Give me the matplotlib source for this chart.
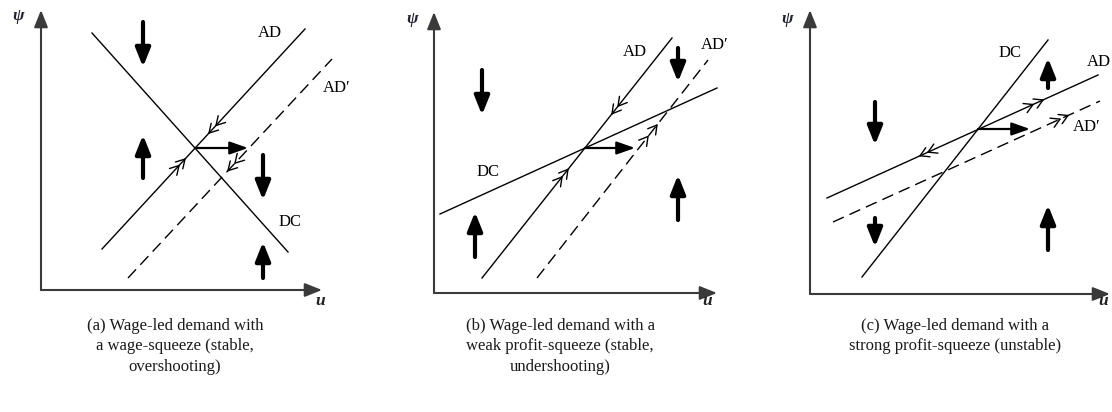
import numpy as np
import matplotlib
matplotlib.use("Agg")
import matplotlib.pyplot as plt

# Panel geometry in pixels: origin of the (u, psi) axes and axis lengths
W_PX, H_PX = 1112, 412
ORIGINS = [(41, 290), (434, 293), (810, 294)]
AXIS_LEN = [(281, 280), (283, 281), (300, 284)]

# Curves per panel, local (u, psi) coordinates, 1 unit = 1 px
dc_a = [(51, 257), (247, 38)]
ad_a = [(61, 41), (264, 261)]
ad2_a = [(87, 12), (291, 231)]

dc_b = [(6, 79), (283, 205)]
ad_b = [(48, 15), (238, 255)]
ad2_b = [(103, 15), (274, 233)]

dc_c = [(52, 17), (238, 254)]
ad_c = [(17, 96), (288, 219)]
ad2_c = [(23, 72), (290, 193)]

# horizontal shift arrow: (u_start, u_end, psi)
shift_a = (154, 207, 142)
shift_b = (151, 201, 145)
shift_c = (168, 220, 165)

# chevrons on curves: (curve, u of tip, direction +1 up-right / -1 down-left)
chev_a = [("AD", 168, -1), ("AD", 175, -1), ("AD", 138, 1), ("AD", 144, 1),
          ("AD'", 187, -1), ("AD'", 194, -1)]
chev_b = [("AD", 178, -1), ("AD", 184, -1), ("AD", 128, 1), ("AD", 134, 1),
          ("AD'", 214, 1), ("AD'", 223, 1)]
chev_c = [("AD", 223, 1), ("AD", 233, 1), ("AD", 110, -1), ("AD", 118, -1),
          ("AD'", 250, 1), ("AD'", 258, 1)]

# thick vertical arrows: (u, psi_start, psi_end)
thick_a = [(102, 268, 223), (102, 112, 155), (222, 135, 90), (222, 12, 48)]
thick_b = [(48, 223, 178), (41, 36, 81), (244, 245, 211), (244, 73, 118)]
thick_c = [(65, 192, 149), (65, 76, 47), (238, 206, 236), (238, 44, 89)]

# text labels: (text, u, psi, ha)
labels_a = [("AD", 229, 257, "center"), ("AD\u2032", 296, 202, "center"),
            ("DC", 249, 68, "center")]
labels_b = [("AD", 201, 241, "center"), ("AD\u2032", 281, 248, "center"),
            ("DC", 54, 121, "center")]
labels_c = [("DC", 200, 241, "center"), ("AD", 277, 232, "left"),
            ("AD\u2032", 277, 167, "center")]
psi_pos = [(-23, 274), (-22, 274), (-23, 275)]
u_pos = [(279, -11), (273, -8), (293, -7)]

captions = [
    ["(a) Wage-led demand with", "a wage-squeeze (stable,", "overshooting)"],
    ["(b) Wage-led demand with a", "weak profit-squeeze (stable,", "undershooting)"],
    ["(c) Wage-led demand with a", "strong profit-squeeze (unstable)"],
]
caption_x = [175, 560, 955]
caption_y0 = 326
caption_dy = 20.5

SERIF = ["Liberation Serif", "DejaVu Serif"]


def on_line(line, u):
    (u0, p0), (u1, p1) = line
    return p0 + (p1 - p0) * (u - u0) / (u1 - u0)


def chevron(ax, line, u, direction, size=10, half_angle=30):
    (u0, p0), (u1, p1) = line
    d = np.array([u1 - u0, p1 - p0], dtype=float)
    d = d / np.linalg.norm(d) * direction
    tip = np.array([u, on_line(line, u)])
    for s in (1, -1):
        a = np.radians(s * half_angle)
        rot = np.array([[np.cos(a), -np.sin(a)], [np.sin(a), np.cos(a)]])
        arm = tip - size * rot @ d
        ax.plot([tip[0], arm[0]], [tip[1], arm[1]], color="black", lw=1.0,
                solid_capstyle="round", clip_on=False)


def draw_panel(ax, idx, dc, ad, ad2, shift, chevs, thick, labels):
    w, h = AXIS_LEN[idx]
    ax.set_xlim(0, w)
    ax.set_ylim(0, h)
    ax.axis("off")

    # coordinate axes with arrow heads
    ax_style = dict(arrowstyle="-|>,head_length=0.8,head_width=0.32", lw=1.5,
                    color="#3a3a3a", shrinkA=0, shrinkB=0, mutation_scale=13)
    ax.annotate("", xy=(w, 0), xytext=(0, 0), arrowprops=ax_style,
                annotation_clip=False)
    ax.annotate("", xy=(0, h), xytext=(0, 0), arrowprops=ax_style,
                annotation_clip=False)

    lines = {"DC": dc, "AD": ad, "AD'": ad2}
    for name, ln in lines.items():
        us, ps = zip(*ln)
        if name == "AD'":
            ax.plot(us, ps, color="black", lw=1.0, dashes=(8.5, 4.5),
                    clip_on=False)
        else:
            ax.plot(us, ps, color="black", lw=1.0, clip_on=False)

    for name, u, dr in chevs:
        chevron(ax, lines[name], u, dr)

    u0, u1, p = shift
    ax.annotate("", xy=(u1, p), xytext=(u0, p), annotation_clip=False,
                arrowprops=dict(arrowstyle="-|>,head_length=0.85,head_width=0.3",
                                lw=1.6, color="black", shrinkA=0, shrinkB=0,
                                mutation_scale=13))

    for u, p0, p1 in thick:
        ax.annotate("", xy=(u, p1), xytext=(u, p0), annotation_clip=False,
                    arrowprops=dict(arrowstyle="-|>,head_length=0.8,head_width=0.32",
                                    lw=3, color="black", shrinkA=0, shrinkB=0,
                                    mutation_scale=14))

    for txt, u, p, ha in labels:
        ax.text(u, p, txt, ha=ha, va="center", fontsize=12, family=SERIF,
                clip_on=False)

    pu, pp = psi_pos[idx]
    ax.text(pu, pp, "\u03c8", ha="center", va="center", fontsize=12.5,
            family=SERIF, style="italic", weight="bold", color="#222233")
    uu, up = u_pos[idx]
    ax.text(uu, up, "u", ha="center", va="center", fontsize=12.5,
            family=SERIF, style="italic", weight="bold", color="#222222")


fig = plt.figure(figsize=(W_PX / 100, H_PX / 100), dpi=100)
fig.patch.set_facecolor("white")

panels = [
    (dc_a, ad_a, ad2_a, shift_a, chev_a, thick_a, labels_a),
    (dc_b, ad_b, ad2_b, shift_b, chev_b, thick_b, labels_b),
    (dc_c, ad_c, ad2_c, shift_c, chev_c, thick_c, labels_c),
]
for i, args in enumerate(panels):
    ox, oy = ORIGINS[i]
    w, h = AXIS_LEN[i]
    ax = fig.add_axes([ox / W_PX, (H_PX - oy) / H_PX, w / W_PX, h / H_PX])
    draw_panel(ax, i, *args)

for cx, lines in zip(caption_x, captions):
    for k, line in enumerate(lines):
        y = caption_y0 + k * caption_dy
        fig.text(cx / W_PX, 1 - y / H_PX, line, ha="center", va="center",
                 fontsize=12, family=SERIF, color="#1a1a1a")

fig.savefig("out.png", dpi=100, facecolor="white")
